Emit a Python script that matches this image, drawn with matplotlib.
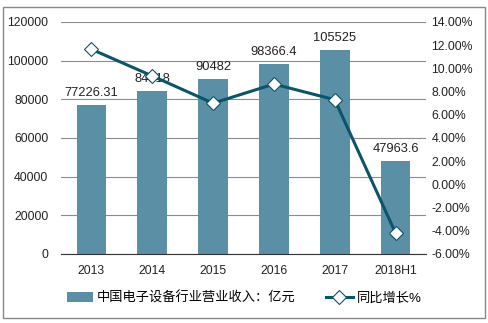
import matplotlib
matplotlib.use("Agg")
import matplotlib.pyplot as plt
from matplotlib.ticker import FuncFormatter
from matplotlib.patches import Rectangle

plt.rcParams['font.family'] = ['Liberation Sans', 'Noto Sans CJK SC', 'DejaVu Sans']

categories = ["2013", "2014", "2015", "2016", "2017", "2018H1"]
revenue = [77226.31, 84518, 90482, 98366.4, 105525, 47963.6]
revenue_labels = ["77226.31", "84518", "90482", "98366.4", "105525", "47963.6"]
growth = [11.65, 9.35, 7.0, 8.65, 7.3, -4.2]

bar_color = "#5b8fa6"
line_color = "#0b5469"
grid_color = "#8c8c8c"

fig = plt.figure(figsize=(4.88, 3.23), dpi=100)
fig.patches.append(Rectangle((3/488, 1-318/323), 482/488, 311/323, transform=fig.transFigure,
                             fill=False, edgecolor="#888888", linewidth=1.0, zorder=0))
ax = fig.add_axes([61/488, 1-254/323, 365/488, 232/323])
x = list(range(len(categories)))
bars = ax.bar(x, revenue, width=0.49, color=bar_color, zorder=2, label="中国电子设备行业营业收入：亿元")
ax.set_ylim(0, 120000)
ax.set_yticks(range(0, 120001, 20000))
ax.set_xlim(-0.5, len(categories) - 0.5)
ax.set_xticks(x)
ax.set_xticklabels(categories)
ax.yaxis.grid(True, color=grid_color, linewidth=0.8, zorder=0)
ax.set_axisbelow(True)
for s in ["top", "right", "left"]:
    ax.spines[s].set_visible(False)
ax.spines["bottom"].set_color("#333333")
ax.tick_params(axis="both", length=0, labelsize=8.8, colors="#222222")
ax.tick_params(axis="x", pad=8)
ax.tick_params(axis="y", pad=9)
for xi, v, lab in zip(x, revenue, revenue_labels):
    ax.text(xi, v + 3000, lab, ha="center", va="bottom", fontsize=9.3, color="#222222", zorder=5)

ax2 = ax.twinx()
ax2.set_ylim(-6, 14)
ax2.set_yticks(range(-6, 15, 2))
ax2.yaxis.set_major_formatter(FuncFormatter(lambda v, p: f"{v:.2f}%"))
ax2.tick_params(axis="y", length=0, labelsize=8.8, colors="#222222", pad=4)
for s in ax2.spines.values():
    s.set_visible(False)
line, = ax2.plot(x, growth, color=line_color, linewidth=2.2, marker="D", markersize=7,
                 markerfacecolor="white", markeredgecolor=line_color, markeredgewidth=0.8,
                 label="同比增长%", zorder=4)

fig.legend(handles=[bars, line], labels=["中国电子设备行业营业收入：亿元", "同比增长%"],
           loc="center", bbox_to_anchor=(0.5, 1-298/323), ncol=2, frameon=False,
           fontsize=9.5, handlelength=2.0, columnspacing=2.3, handletextpad=0.3)

fig.savefig("out.png", dpi=100)
